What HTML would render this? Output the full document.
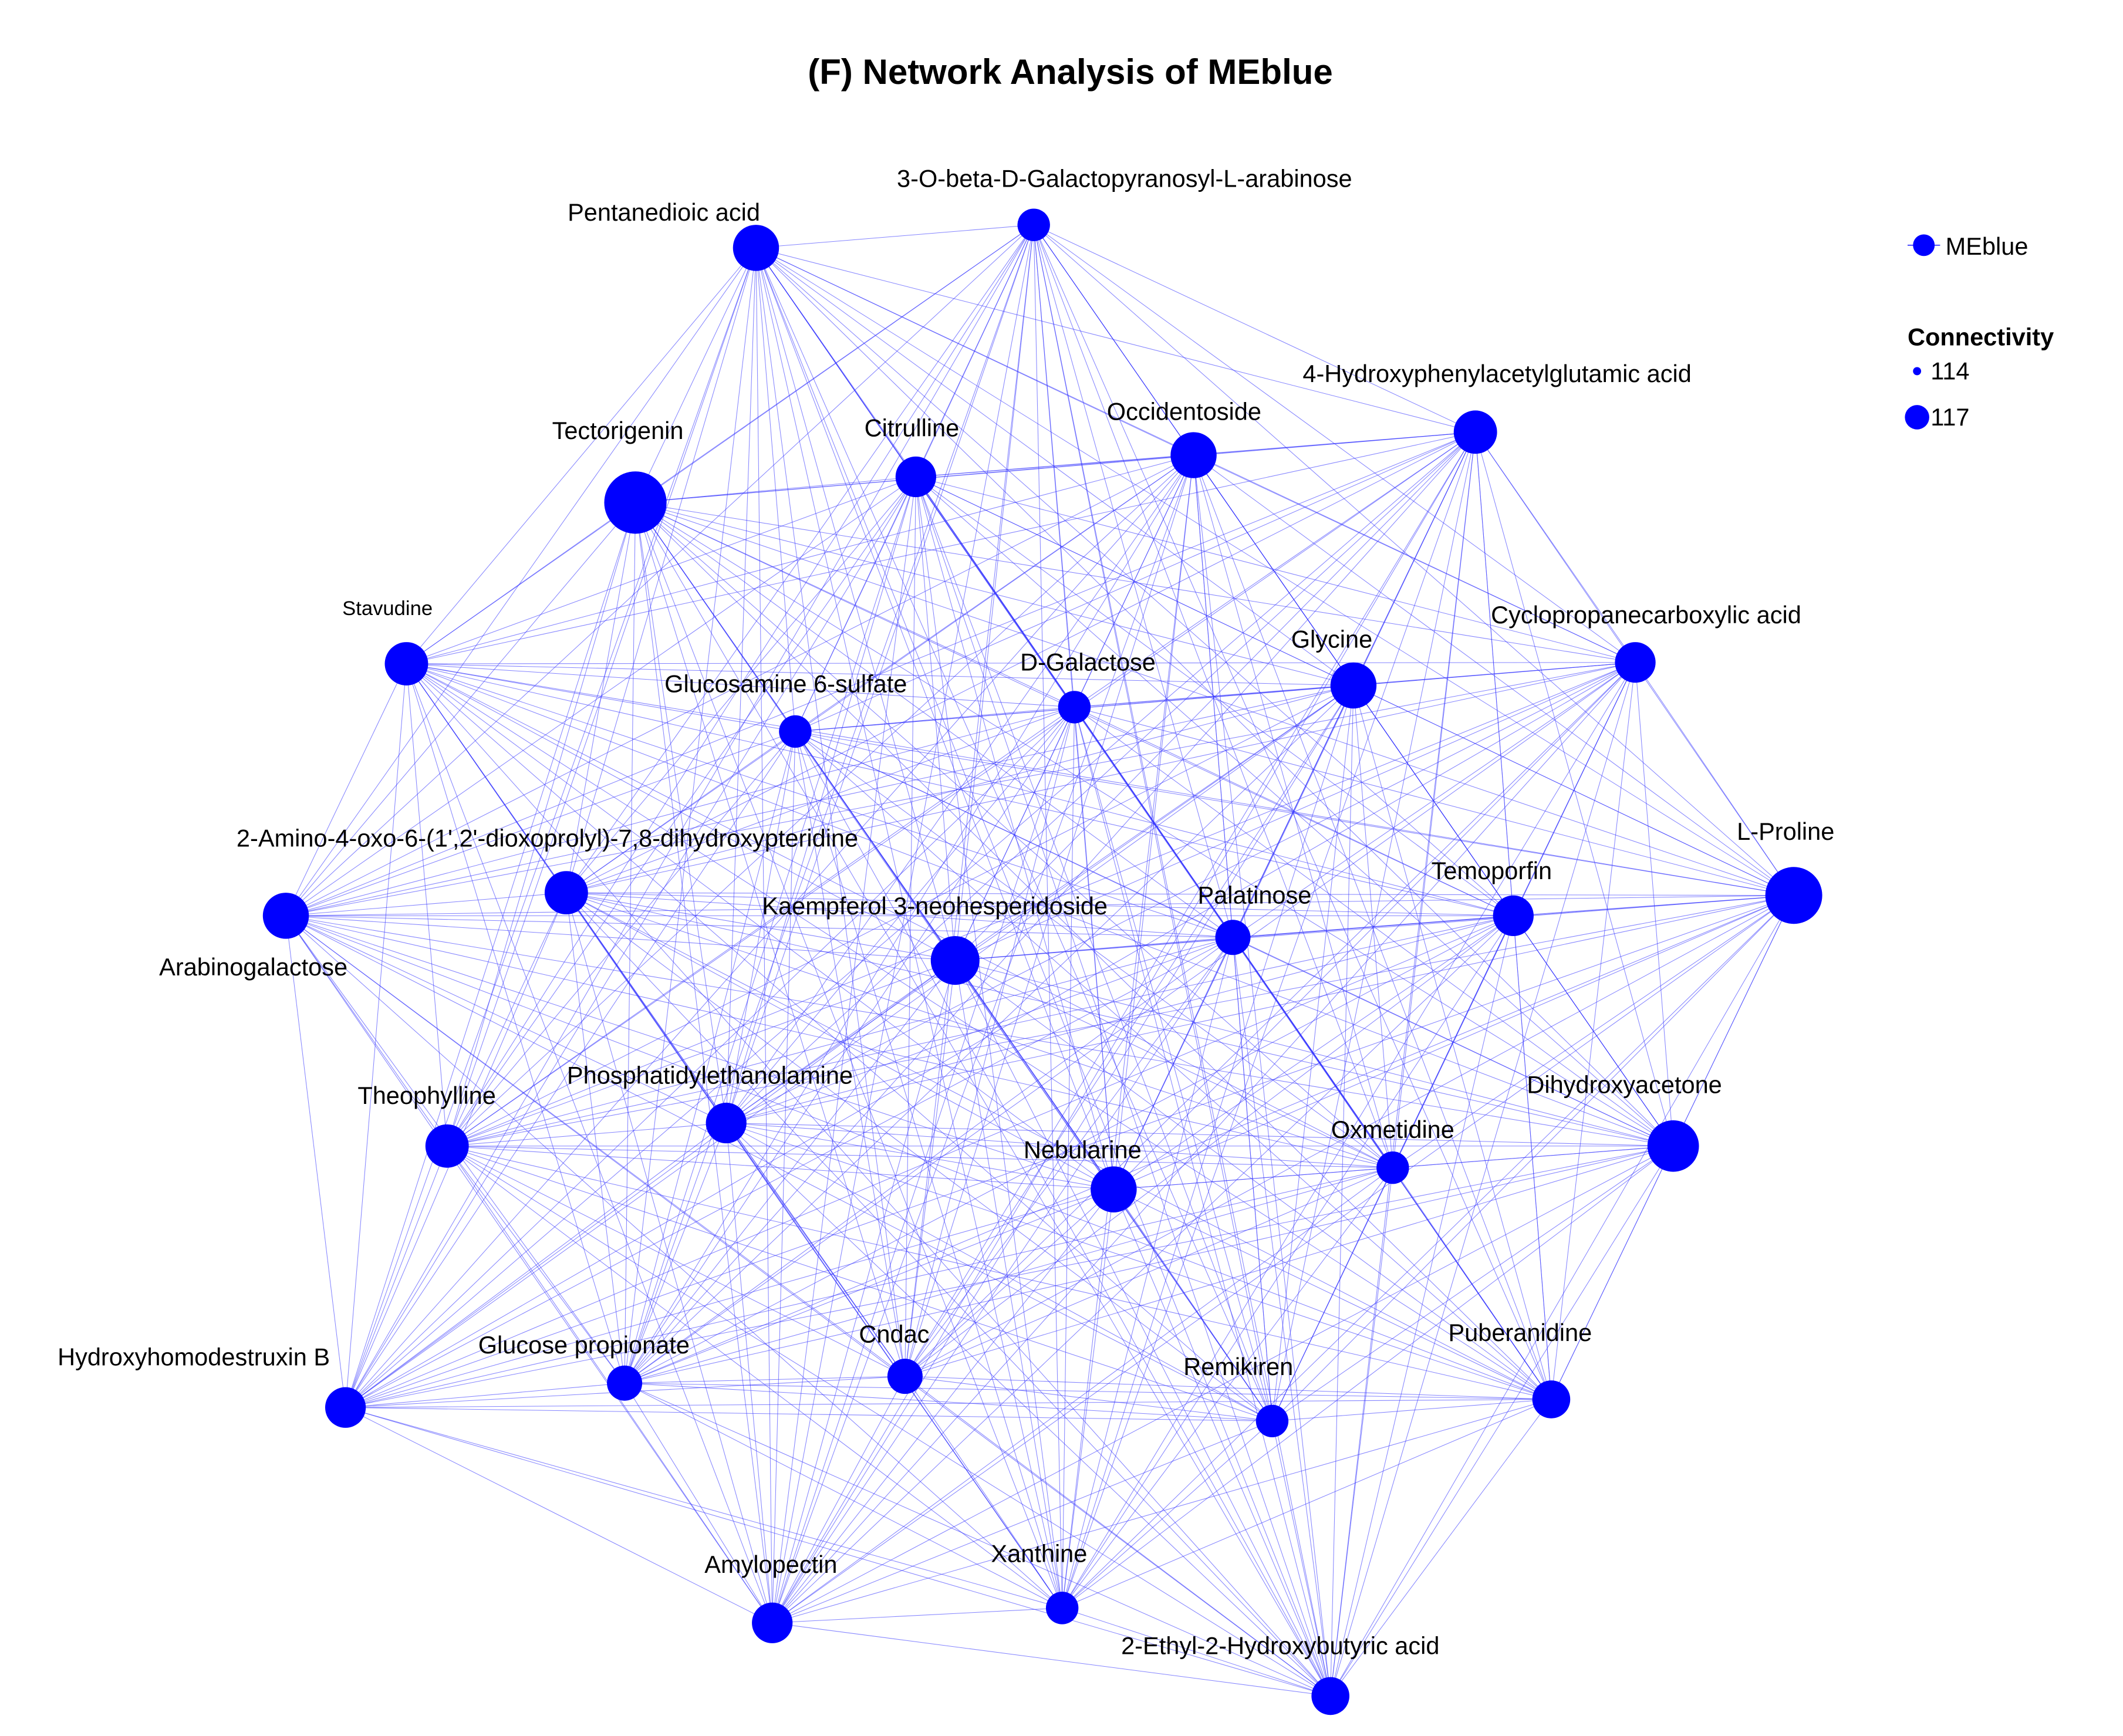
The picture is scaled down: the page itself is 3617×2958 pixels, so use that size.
<!DOCTYPE html>
<html><head><meta charset="utf-8"><style>
html,body{margin:0;padding:0;background:#fff}
svg{display:block}
text{font-family:"Liberation Sans",Arial,sans-serif;fill:#000}
</style></head><body>
<svg id="s" width="3617" height="2958" viewBox="0 0 1567 1281.5" preserveAspectRatio="none" xmlns="http://www.w3.org/2000/svg">
<rect width="1567" height="1282" fill="#fff"/>
<g id="edges" stroke="#3333ff" stroke-width="0.45" stroke-opacity="0.6"></g>
<g id="nodes" fill="#0000ff"></g>
<text x="790" y="62" font-size="26" font-weight="bold" text-anchor="middle">(F)  Network Analysis of MEblue</text>
<g font-size="18" text-anchor="middle">
<text x="830" y="138">3-O-beta-D-Galactopyranosyl-L-arabinose</text>
<text x="490" y="163">Pentanedioic acid</text>
<text x="456" y="324">Tectorigenin</text>
<text x="673" y="322">Citrulline</text>
<text x="874" y="310">Occidentoside</text>
<text x="1105" y="282">4-Hydroxyphenylacetylglutamic acid</text>
<text x="286" y="454" font-size="15">Stavudine</text>
<text x="580" y="511">Glucosamine 6-sulfate</text>
<text x="803" y="495">D-Galactose</text>
<text x="983" y="478">Glycine</text>
<text x="1215" y="460">Cyclopropanecarboxylic acid</text>
<text x="404" y="625">2-Amino-4-oxo-6-(1',2'-dioxoprolyl)-7,8-dihydroxypteridine</text>
<text x="187" y="720">Arabinogalactose</text>
<text x="690" y="675">Kaempferol 3-neohesperidoside</text>
<text x="926" y="667">Palatinose</text>
<text x="1101" y="649">Temoporfin</text>
<text x="1318" y="620">L-Proline</text>
<text x="315" y="815">Theophylline</text>
<text x="524" y="800">Phosphatidylethanolamine</text>
<text x="799" y="855">Nebularine</text>
<text x="1028" y="840">Oxmetidine</text>
<text x="1199" y="807">Dihydroxyacetone</text>
<text x="143" y="1008">Hydroxyhomodestruxin B</text>
<text x="431" y="999">Glucose propionate</text>
<text x="660" y="991">Cndac</text>
<text x="914" y="1015">Remikiren</text>
<text x="1122" y="990">Puberanidine</text>
<text x="569" y="1161">Amylopectin</text>
<text x="767" y="1153">Xanthine</text>
<text x="945" y="1221">2-Ethyl-2-Hydroxybutyric acid</text>
</g>
<line x1="1408" y1="181" x2="1432" y2="181" stroke="#0000ff" stroke-width="0.6"/>
<circle cx="1420" cy="181" r="8" fill="#0000ff"/>
<text x="1436" y="188" font-size="18">MEblue</text>
<text x="1408" y="255" font-size="18" font-weight="bold">Connectivity</text>
<circle cx="1415" cy="274" r="3" fill="#0000ff"/>
<text x="1425" y="280" font-size="18">114</text>
<circle cx="1415" cy="308" r="9" fill="#0000ff"/>
<text x="1425" y="314" font-size="18">117</text>
</svg>
<script>
var N=[[763,166,12],[558,183,17],[469,371,23],[676,352,15],[881,336,17],[1089,319,16],[300,490,16],[587,540,12],[793,522,12],[999,506,17],[1207,489,15],[211,676,17],[418,659,16],[705,709,18],[910,692,13],[1117,676,15],[1324,661,21],[330,846,16],[536,829,15],[822,878,17],[1028,862,12],[1235,846,19],[255,1039,15],[461,1021,13],[668,1016,13],[939,1049,12],[1145,1033,14],[570,1198,15],[784,1187,12],[982,1252,14]];
var e=document.getElementById('edges'),n=document.getElementById('nodes'),ns='http://www.w3.org/2000/svg';
for(var i=0;i<N.length;i++)for(var j=i+1;j<N.length;j++){var l=document.createElementNS(ns,'line');l.setAttribute('x1',N[i][0]);l.setAttribute('y1',N[i][1]);l.setAttribute('x2',N[j][0]);l.setAttribute('y2',N[j][1]);e.appendChild(l);}
N.forEach(function(p){var c=document.createElementNS(ns,'circle');c.setAttribute('cx',p[0]);c.setAttribute('cy',p[1]);c.setAttribute('r',p[2]);n.appendChild(c);});
</script>
</body></html>
